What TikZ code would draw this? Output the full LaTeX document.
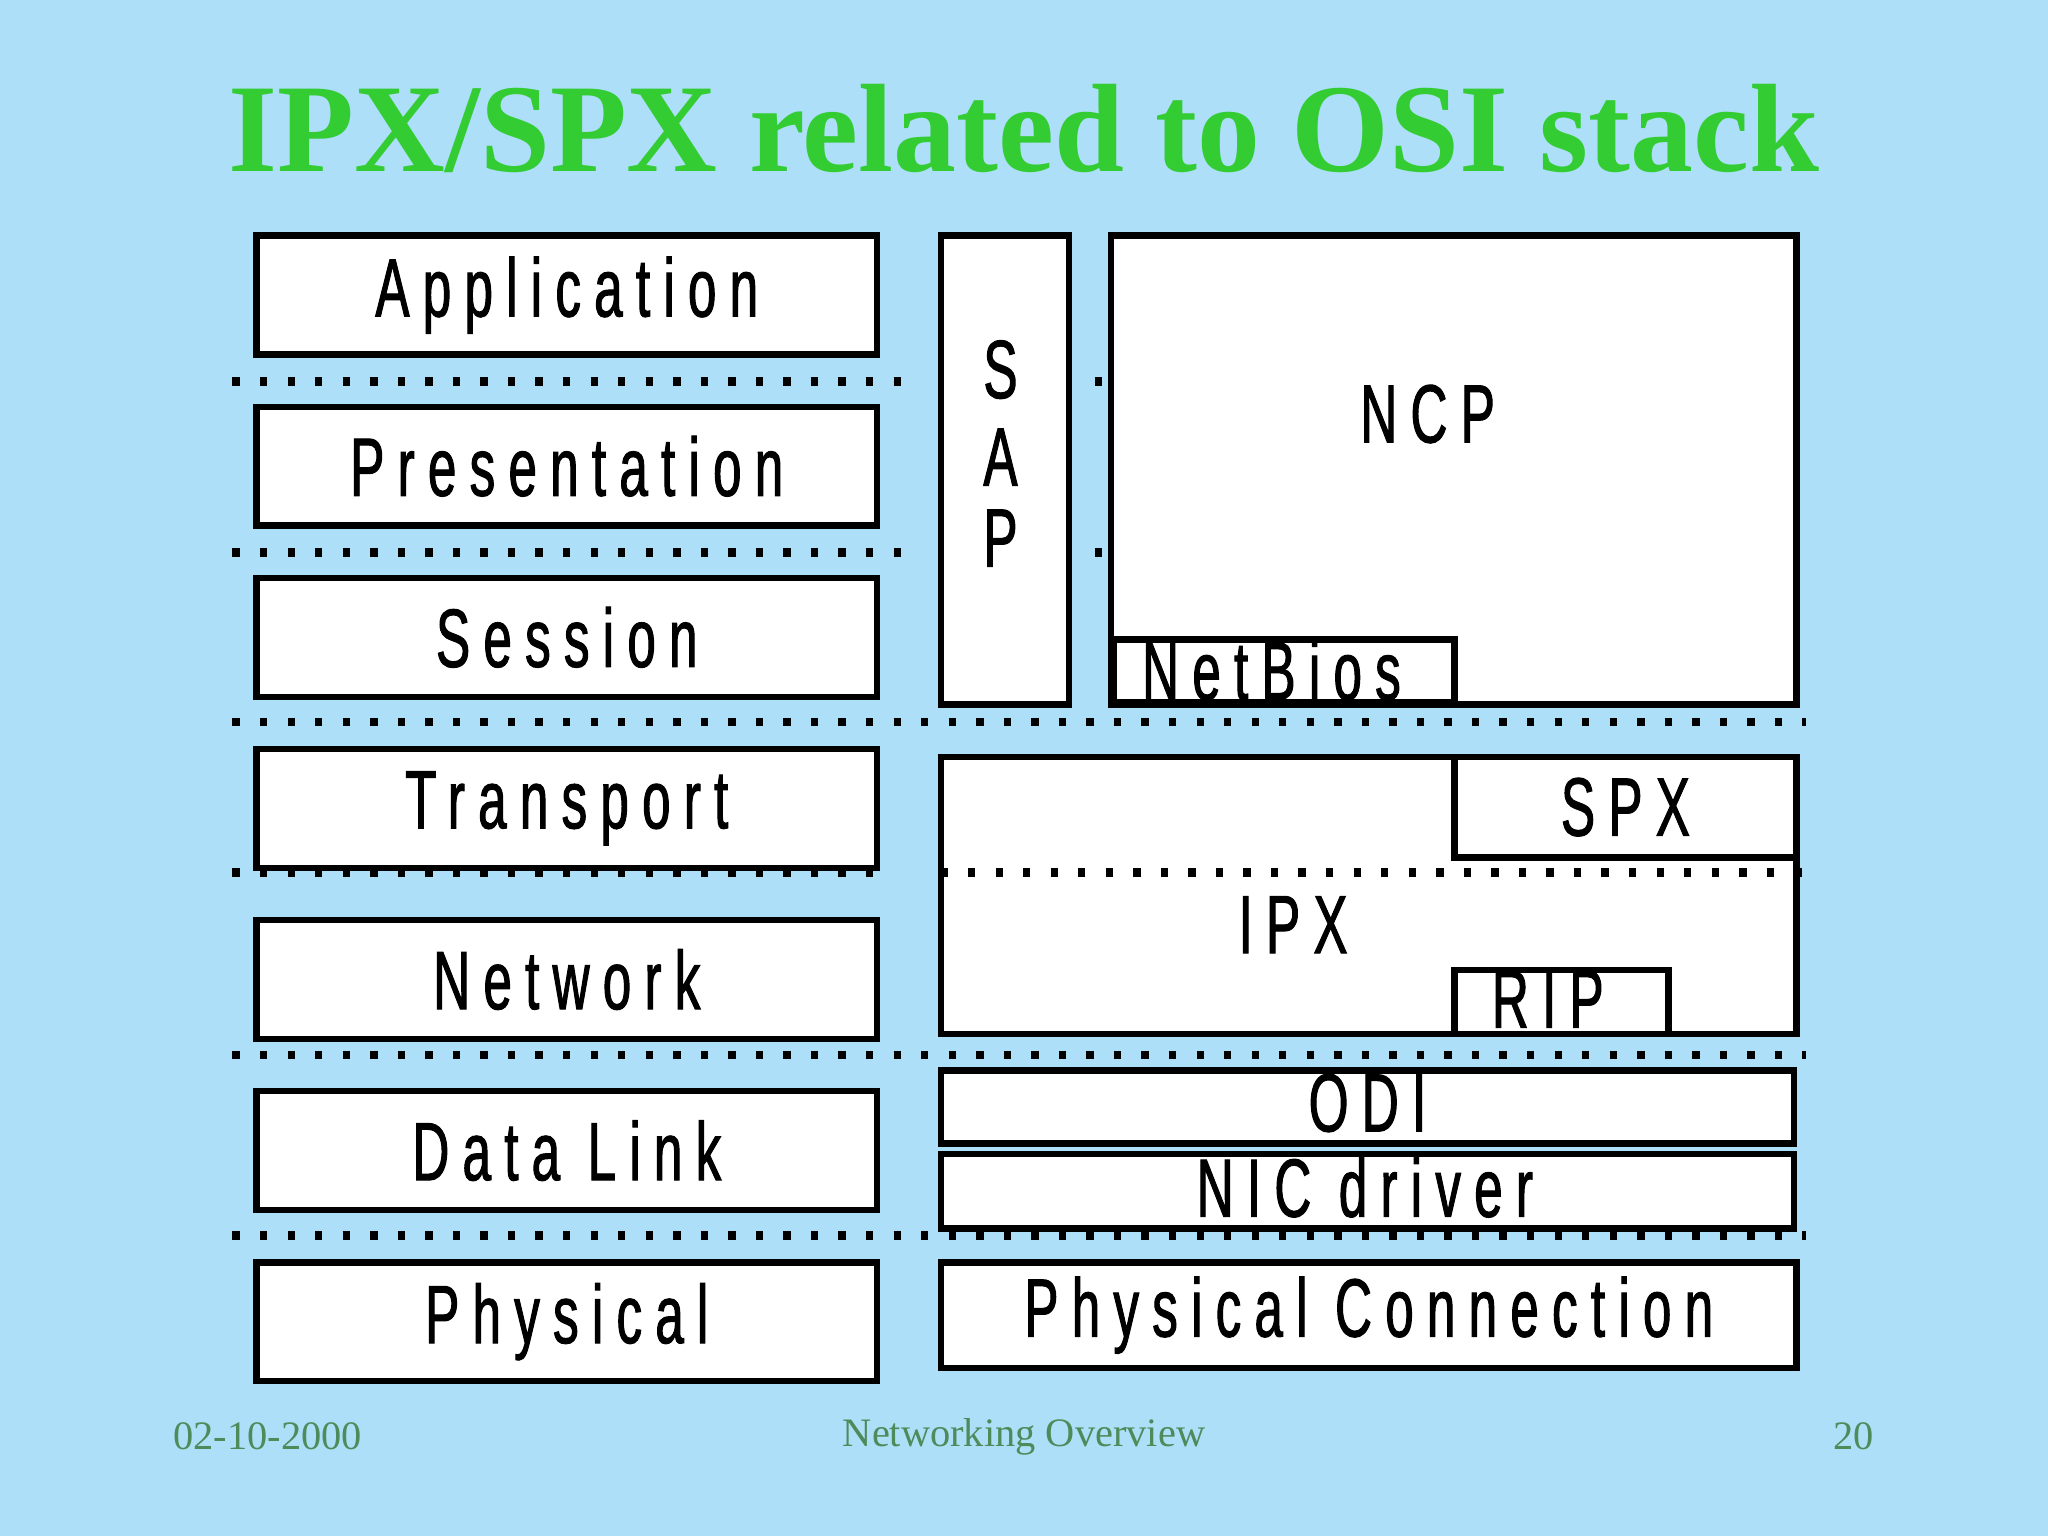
\documentclass[tikz,border=0pt]{standalone}
\usepackage{fontspec}
\setmainfont{Liberation Serif}
\newfontfamily\nar{Liberation Sans}[FakeStretch=0.62,LetterSpace=16,FakeBold=1.2]
\definecolor{bg}{HTML}{ADDFF8}
\definecolor{ttl}{HTML}{33CC33}
\definecolor{ft}{HTML}{4E8A5A}
\tikzset{box/.style={draw=black,line width=1.4pt,fill=white,inner sep=0pt,anchor=north west},
 lbl/.style={font=\nar\fontsize{18}{20}\selectfont},
 ftx/.style={text=ft,font=\fontsize{8.8}{10}\selectfont},
 dl/.style={line width=1.8pt,dash pattern=on 1.6pt off 4.4pt,line cap=butt}}
\newcommand\bx[5]{\node[box,minimum width=#4cm-#2cm,minimum height=#5cm-#3cm] (#1) at (#2/1,-#3) {};}
\begin{document}
\begin{tikzpicture}[x=1cm,y=1cm]
\fill[bg] (0,0) rectangle (15.68,-11.76);
\useasboundingbox (0,0) rectangle (15.68,-11.76);
\node[font=\bfseries\fontsize{27.4}{28}\selectfont,text=ttl] (title) at (7.84,-0.98) {IPX/SPX related to OSI stack};
% dotted lines
\coordinate (a1) at (1.78,-2.92); \coordinate (a2) at (7.00,-2.92);
\coordinate (a3) at (8.38,-2.92); \coordinate (a4) at (13.83,-2.92);
\coordinate (b1) at (1.78,-4.23); \coordinate (b2) at (7.00,-4.23);
\coordinate (b3) at (8.38,-4.23); \coordinate (b4) at (13.83,-4.23);
\coordinate (c1) at (1.78,-5.53); \coordinate (c2) at (13.83,-5.53);
\coordinate (d1) at (1.78,-6.68); \coordinate (d2) at (6.69,-6.68);
\coordinate (d3) at (7.20,-6.68); \coordinate (d4) at (13.83,-6.68);
\coordinate (e1) at (1.78,-8.08); \coordinate (e2) at (13.83,-8.08);
\coordinate (f1) at (1.78,-9.46); \coordinate (f2) at (13.83,-9.46);
\draw[dl] (a1)--(a2) (a3)--(a4) (b1)--(b2) (b3)--(b4) (c1)--(c2) (d1)--(d2) (e1)--(e2) (f1)--(f2);
% left column
\bx{app}{1.94}{1.78}{6.69}{2.69}
\bx{pre}{1.94}{3.09}{6.69}{4.00}
\bx{ses}{1.94}{4.40}{6.69}{5.31}
\bx{tra}{1.94}{5.71}{6.69}{6.62}
\bx{net}{1.94}{7.02}{6.69}{7.93}
\bx{dat}{1.94}{8.33}{6.69}{9.24}
\bx{phy}{1.94}{9.64}{6.69}{10.55}
\node[lbl] at (app) {Application};
\node[lbl] at (pre) {Presentation};
\node[lbl] at (ses) {Session};
\node[lbl] at (tra) {Transport};
\node[lbl] at (net) {Network};
\node[lbl] at (dat) {Data Link};
\node[lbl] at (phy) {Physical};
% right
\bx{sap}{7.18}{1.78}{8.16}{5.37}
\node[lbl] (s1) at (7.66,-2.83) {S};
\node[lbl] (s2) at (7.66,-3.50) {A};
\node[lbl] (s3) at (7.66,-4.12) {P};
\bx{ncp}{8.48}{1.78}{13.73}{5.37}
\node[lbl] (ncpt) at (10.93,-3.17) {NCP};
\bx{nb}{8.50}{4.87}{11.11}{5.35}
\node[lbl,anchor=west] (nbt) at (8.62,-5.13) {NetBios};
\bx{ipx}{7.18}{5.77}{13.73}{7.89}
\draw[dl] (d3)--(d4);
\bx{spx}{11.11}{5.77}{13.73}{6.54}
\node[lbl] at (spx) {SPX};
\node[lbl] (ipxt) at (9.90,-7.08) {IPX};
\bx{rip}{11.11}{7.40}{12.75}{7.89}
\node[lbl] at (11.85,-7.65) {RIP};
\bx{odi}{7.18}{8.17}{13.71}{8.73}
\node[lbl] at ([yshift=0.03cm]odi) {ODI};
\bx{nic}{7.18}{8.81}{13.71}{9.38}
\node[lbl] at ([yshift=0.03cm,xshift=-0.02cm]nic) {NIC driver};
\bx{pc}{7.18}{9.64}{13.73}{10.45}
\node[lbl] at (pc) {Physical Connection};
% footer
\node[ftx] (f1t) at (2.05,-11.00) {02-10-2000};
\node[ftx] (f2t) at (7.84,-11.00) {Networking Overview};
\node[ftx] (f3t) at (14.19,-11.00) {20};
\end{tikzpicture}
\end{document}
